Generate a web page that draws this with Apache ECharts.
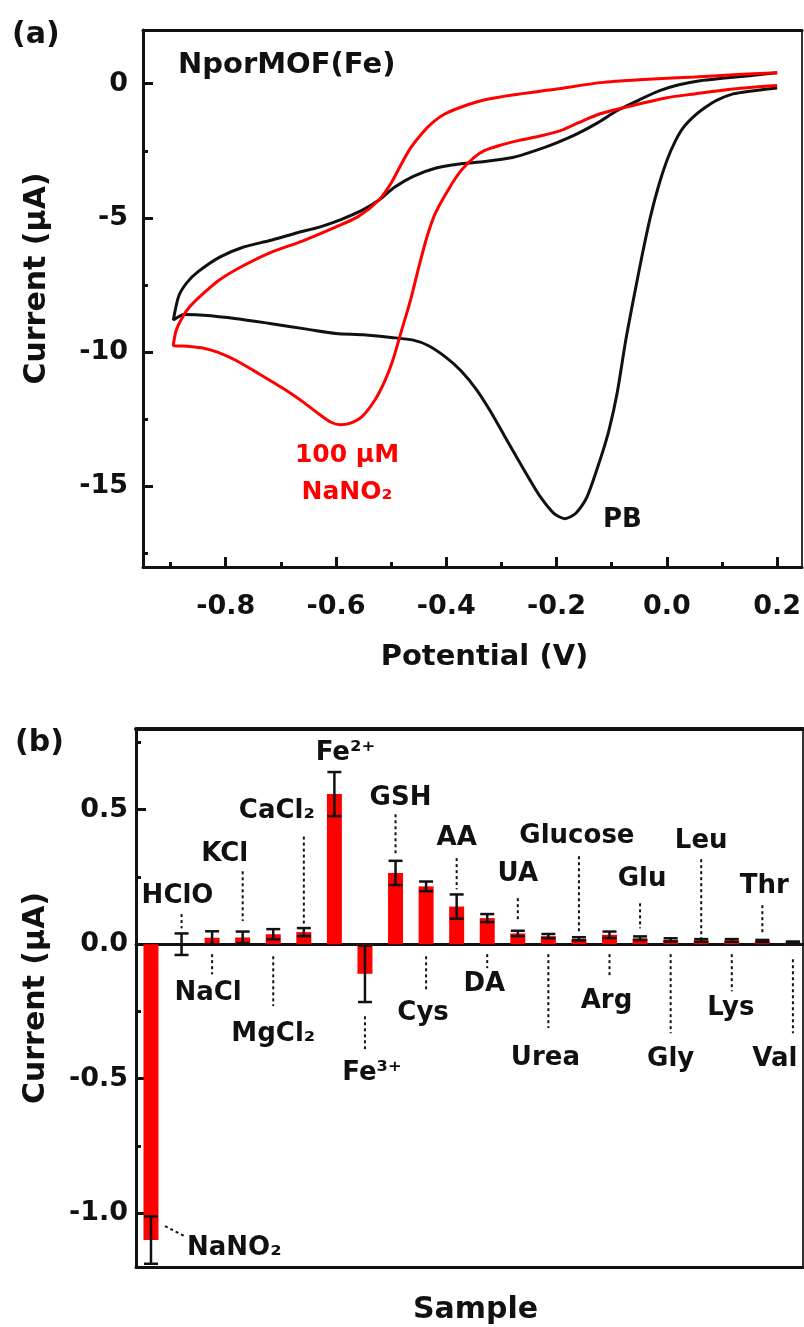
<!DOCTYPE html>
<html>
<head>
<meta charset="utf-8">
<title>NporMOF(Fe)</title>
<script src="https://cdn.jsdelivr.net/npm/echarts@6.0.0/dist/echarts.min.js"></script>
<style>
html, body { margin: 0; padding: 0; background: #fff; }
#main { width: 804px; height: 1327px; }
</style>
</head>
<body>
<div id="main"></div>
<script>
// (a) CV, [potential (V), current (uA)], cathodic sweep first then back
var pbCurve = [
    [0.20,-0.16],[0.15,-0.28],[0.12,-0.38],[0.09,-0.62],[0.07,-0.88],[0.05,-1.2],[0.03,-1.63],[0.015,-2.15],
    [0.0,-2.86],[-0.015,-3.8],[-0.03,-4.97],[-0.045,-6.4],[-0.061,-8.07],[-0.075,-9.6],[-0.09,-11.5],
    [-0.105,-12.9],[-0.121,-14.0],[-0.145,-15.4],[-0.165,-16.0],[-0.185,-16.2],[-0.205,-16.0],[-0.229,-15.4],
    [-0.25,-14.7],[-0.27,-14.0],[-0.295,-13.1],[-0.32,-12.2],[-0.345,-11.4],[-0.373,-10.7],[-0.40,-10.2],
    [-0.433,-9.75],[-0.46,-9.55],[-0.50,-9.45],[-0.55,-9.35],[-0.60,-9.3],[-0.65,-9.15],[-0.72,-8.93],
    [-0.78,-8.75],[-0.84,-8.62],[-0.875,-8.6],[-0.895,-8.8],
    [-0.885,-7.9],[-0.87,-7.4],[-0.85,-7.0],[-0.81,-6.45],[-0.77,-6.1],[-0.72,-5.84],[-0.67,-5.55],
    [-0.63,-5.34],[-0.59,-5.05],[-0.553,-4.72],[-0.52,-4.3],[-0.494,-3.86],[-0.46,-3.45],[-0.42,-3.15],
    [-0.38,-3.0],[-0.33,-2.9],[-0.28,-2.75],[-0.24,-2.5],[-0.20,-2.2],[-0.162,-1.86],[-0.125,-1.45],
    [-0.09,-1.0],[-0.05,-0.6],[-0.013,-0.26],[0.02,-0.05],[0.06,0.11],[0.10,0.2],[0.15,0.3],[0.20,0.41]
];
var nitriteCurve = [
    [0.20,-0.07],[0.12,-0.2],[0.05,-0.38],[0.0,-0.52],[-0.06,-0.8],[-0.121,-1.12],[-0.16,-1.45],[-0.193,-1.75],
    [-0.23,-1.95],[-0.27,-2.12],[-0.30,-2.28],[-0.331,-2.49],[-0.35,-2.75],[-0.373,-3.23],[-0.395,-3.9],
    [-0.42,-4.83],[-0.435,-5.7],[-0.45,-6.84],[-0.465,-8.07],[-0.481,-9.18],[-0.497,-10.3],[-0.512,-11.1],
    [-0.53,-11.8],[-0.553,-12.4],[-0.575,-12.65],[-0.593,-12.7],[-0.61,-12.6],[-0.631,-12.3],[-0.66,-11.85],
    [-0.692,-11.4],[-0.74,-10.8],[-0.782,-10.3],[-0.815,-10.0],[-0.84,-9.85],[-0.87,-9.78],[-0.895,-9.74],
    [-0.89,-9.2],[-0.88,-8.75],[-0.865,-8.3],[-0.84,-7.8],[-0.811,-7.3],[-0.77,-6.8],[-0.72,-6.3],[-0.66,-5.85],
    [-0.602,-5.35],[-0.56,-4.95],[-0.523,-4.35],[-0.50,-3.7],[-0.481,-2.97],[-0.465,-2.4],[-0.445,-1.87],
    [-0.425,-1.45],[-0.403,-1.13],[-0.37,-0.85],[-0.33,-0.6],[-0.28,-0.42],[-0.20,-0.2],[-0.121,0.04],
    [-0.05,0.15],[0.05,0.25],[0.12,0.33],[0.20,0.41]
];
var potentialTicks = [-0.8, -0.6, -0.4, -0.2, 0.0, 0.2];
var potentialMinor = [-0.9, -0.7, -0.5, -0.3, -0.1, 0.1];
var cvTicks = [-15, -10, -5, 0];
var cvMinor = [-17.5, -12.5, -7.5, -2.5];

// (b) interference test
var samples = ['NaNO₂','HClO','NaCl','KCl','MgCl₂','CaCl₂','Fe²⁺','Fe³⁺','GSH','Cys','AA','DA','UA',
    'Urea','Glucose','Arg','Glu','Gly','Leu','Lys','Thr','Val'];
var currents = [-1.10, 0.0, 0.024, 0.025, 0.037, 0.045, 0.558, -0.11, 0.265, 0.215, 0.14, 0.097, 0.04,
    0.03, 0.02, 0.035, 0.022, 0.016, 0.014, 0.014, 0.012, 0.007];
var errors = [0.088, 0.04, 0.024, 0.022, 0.019, 0.015, 0.082, 0.105, 0.045, 0.018, 0.045, 0.015, 0.01,
    0.008, 0.006, 0.012, 0.007, 0.006, 0.005, 0.005, 0.004, 0.003];
var barTicks = [-1.0, -0.5, 0.0, 0.5];
var barMinor = [-0.75, -0.25, 0.25, 0.75];

// name tags: label centre (uA), shift (px), dotted leader [dx1, uA1, dx2, uA2]
var tagLayout = [
    {i: 0, y: -1.13, dx: 36, align: 'left', lead: [14, -1.048, 34, -1.086]},
    {i: 1, y: 0.178, dx: -4, lead: [0, 0.112, 0, 0.059]},
    {i: 2, y: -0.182, dx: -4, lead: [0, -0.037, 0, -0.112]},
    {i: 3, y: 0.335, dx: -18, lead: [0, 0.271, 0, 0.086]},
    {i: 4, y: -0.335, dx: 0, lead: [0, -0.045, 0, -0.23]},
    {i: 5, y: 0.494, dx: -27, lead: [0, 0.40, 0, 0.074]},
    {i: 6, y: 0.71, dx: 11},
    {i: 7, y: -0.48, dx: 7, lead: [0, -0.268, 0, -0.39]},
    {i: 8, y: 0.543, dx: 5, lead: [0, 0.483, 0, 0.335]},
    {i: 9, y: -0.257, dx: -3, lead: [0, -0.045, 0, -0.175]},
    {i: 10, y: 0.394, dx: 0, lead: [0, 0.32, 0, 0.204]},
    {i: 11, y: -0.149, dx: -3, lead: [0, -0.037, 0, -0.089]},
    {i: 12, y: 0.26, dx: 0, lead: [0, 0.171, 0, 0.086]},
    {i: 13, y: -0.424, dx: -3, lead: [0, -0.037, 0, -0.312]},
    {i: 14, y: 0.401, dx: -2, lead: [0, 0.327, 0, 0.048]},
    {i: 15, y: -0.212, dx: -3, lead: [0, -0.037, 0, -0.119]},
    {i: 16, y: 0.242, dx: 2, lead: [0, 0.152, 0, 0.059]},
    {i: 17, y: -0.428, dx: 0, lead: [0, -0.037, 0, -0.331]},
    {i: 18, y: 0.383, dx: 0, lead: [0, 0.316, 0, 0.022]},
    {i: 19, y: -0.238, dx: -1, lead: [0, -0.037, 0, -0.175]},
    {i: 20, y: 0.216, dx: 2, lead: [0, 0.145, 0, 0.037]},
    {i: 21, y: -0.428, dx: -18, lead: [0, -0.056, 0, -0.331]}
];

var FONT = 'DejaVu Sans';
var INK = '#111';

function tickLabel(size) {
    return {color: INK, fontFamily: FONT, fontWeight: 'bold', fontSize: size};
}
function fmt1(v) { return v.toFixed(1); }
function fmt0(v) { return String(v); }

function txt(x, y, s, size, color, align) {
    return {
        type: 'text', x: x, y: y, z: 100,
        style: {text: s, fill: color || INK, font: 'bold ' + size + 'px "' + FONT + '"',
            textAlign: align || 'left', align: align || 'left',
            textVerticalAlign: 'middle', verticalAlign: 'middle'}
    };
}

// axis that only carries short inner ticks
function minorAxis(grid, pos, min, max, vals) {
    return {
        gridIndex: grid, type: 'value', min: min, max: max, position: pos,
        axisLine: {show: false, onZero: false},
        axisTick: {inside: true, length: 5, customValues: vals, lineStyle: {color: INK, width: 3}},
        axisLabel: {show: false}, splitLine: {show: false}
    };
}
// plain frame side
function frameAxis(grid, pos, min, max, color, width) {
    return {
        gridIndex: grid, type: 'value', min: min, max: max, position: pos,
        axisLine: {onZero: false, lineStyle: {color: color, width: width}},
        axisTick: {show: false}, axisLabel: {show: false}, splitLine: {show: false}
    };
}

var myChart = echarts.init(document.getElementById('main'));

var barData = currents.map(function (v, i) { return [i, v]; });
var errData = currents.map(function (v, i) { return [i, v, errors[i]]; });
var tagData = tagLayout.map(function (t) { return [t.i, t.y]; });

var option = {
    animation: false,
    backgroundColor: '#fff',
    grid: [
        {left: 143, top: 30, width: 659, height: 537, outerBoundsMode: 'none'},
        {left: 136, top: 729, width: 667, height: 538, outerBoundsMode: 'none'}
    ],
    xAxis: [
        {
            gridIndex: 0, type: 'value', min: -0.95, max: 0.245, position: 'bottom',
            axisLine: {onZero: false, lineStyle: {color: INK, width: 3}},
            axisTick: {inside: true, length: 10, customValues: potentialTicks, lineStyle: {color: INK, width: 3}},
            axisLabel: Object.assign(tickLabel(27), {margin: 26, customValues: potentialTicks, formatter: fmt1}),
            splitLine: {show: false},
            name: 'Potential (V)', nameLocation: 'middle', nameGap: 76, nameMoveOverlap: false,
            nameTextStyle: {color: INK, fontFamily: FONT, fontWeight: 'bold', fontSize: 29, padding: [0, 0, 0, 24]}
        },
        minorAxis(0, 'bottom', -0.95, 0.245, potentialMinor),
        frameAxis(0, 'top', -0.95, 0.245, INK, 3),
        {
            gridIndex: 1, type: 'value', min: -0.49, max: 21.33, position: 'bottom',
            axisLine: {onZero: true, lineStyle: {color: INK, width: 3}},
            axisTick: {show: false}, axisLabel: {show: false}, splitLine: {show: false}
        },
        {
            gridIndex: 1, type: 'value', min: -0.49, max: 21.33, position: 'bottom',
            axisLine: {onZero: false, lineStyle: {color: INK, width: 3}},
            axisTick: {show: false}, axisLabel: {show: false}, splitLine: {show: false},
            name: 'Sample', nameLocation: 'middle', nameGap: 28, nameMoveOverlap: false,
            nameTextStyle: {color: INK, fontFamily: FONT, fontWeight: 'bold', fontSize: 30, padding: [0, 0, 0, 12]}
        },
        frameAxis(1, 'top', -0.49, 21.33, INK, 4)
    ],
    yAxis: [
        {
            gridIndex: 0, type: 'value', min: -18, max: 2, position: 'left',
            axisLine: {onZero: false, lineStyle: {color: INK, width: 3}},
            axisTick: {inside: true, length: 10, customValues: cvTicks, lineStyle: {color: INK, width: 3}},
            axisLabel: Object.assign(tickLabel(27), {margin: 15, customValues: cvTicks, formatter: fmt0}),
            splitLine: {show: false},
            name: 'Current (μA)', nameLocation: 'middle', nameRotate: 90, nameGap: 91, nameMoveOverlap: false,
            nameTextStyle: {color: INK, fontFamily: FONT, fontWeight: 'bold', fontSize: 30, padding: [0, 0, 0, 40]}
        },
        minorAxis(0, 'left', -18, 2, cvMinor),
        frameAxis(0, 'right', -18, 2, '#333', 2),
        {
            gridIndex: 1, type: 'value', min: -1.2, max: 0.8, position: 'left',
            axisLine: {onZero: false, lineStyle: {color: INK, width: 3}},
            axisTick: {inside: true, length: 10, customValues: barTicks, lineStyle: {color: INK, width: 3}},
            axisLabel: Object.assign(tickLabel(27), {margin: 8, customValues: barTicks, formatter: fmt1}),
            splitLine: {show: false},
            name: 'Current (μA)', nameLocation: 'middle', nameRotate: 90, nameGap: 85, nameMoveOverlap: false,
            nameTextStyle: {color: INK, fontFamily: FONT, fontWeight: 'bold', fontSize: 30}
        },
        minorAxis(1, 'left', -1.2, 0.8, barMinor),
        frameAxis(1, 'right', -1.2, 0.8, '#333', 2)
    ],
    series: [
        {
            name: 'PB', type: 'line', xAxisIndex: 0, yAxisIndex: 0, data: pbCurve,
            showSymbol: false, smooth: 0.25, lineStyle: {color: '#111', width: 3}, z: 3
        },
        {
            name: '100 μM NaNO₂', type: 'line', xAxisIndex: 0, yAxisIndex: 0, data: nitriteCurve,
            showSymbol: false, smooth: 0.25, lineStyle: {color: '#ff0000', width: 3}, z: 4
        },
        {
            name: 'current', type: 'bar', xAxisIndex: 3, yAxisIndex: 3, data: barData,
            barWidth: 15, itemStyle: {color: '#ff0000'}, z: 2
        },
        {
            name: 'error', type: 'custom', xAxisIndex: 3, yAxisIndex: 3, data: errData,
            encode: {x: 0, y: 1}, z: 5,
            renderItem: function (params, api) {
                var x = api.value(0), v = api.value(1), e = api.value(2);
                var hi = api.coord([x, v + e]), lo = api.coord([x, v - e]);
                var w = 7;
                var st = {stroke: INK, lineWidth: 2.5};
                return {type: 'group', children: [
                    {type: 'line', shape: {x1: hi[0], y1: hi[1], x2: lo[0], y2: lo[1]}, style: st},
                    {type: 'line', shape: {x1: hi[0] - w, y1: hi[1], x2: hi[0] + w, y2: hi[1]}, style: st},
                    {type: 'line', shape: {x1: lo[0] - w, y1: lo[1], x2: lo[0] + w, y2: lo[1]}, style: st}
                ]};
            }
        },
        {
            name: 'tags', type: 'custom', xAxisIndex: 3, yAxisIndex: 3, data: tagData,
            encode: {x: 0, y: 1}, z: 6, clip: false,
            renderItem: function (params, api) {
                var t = tagLayout[params.dataIndex];
                var p = api.coord([t.i, t.y]);
                var align = t.align || 'center';
                var kids = [{
                    type: 'text',
                    style: {text: samples[t.i], x: p[0] + t.dx, y: p[1], fill: INK,
                        font: 'bold 26px "' + FONT + '"', textAlign: align, align: align,
                        textVerticalAlign: 'middle', verticalAlign: 'middle'}
                }];
                if (t.lead) {
                    var a = api.coord([t.i, t.lead[1]]), b = api.coord([t.i, t.lead[3]]);
                    kids.push({
                        type: 'line',
                        shape: {x1: a[0] + t.lead[0], y1: a[1], x2: b[0] + t.lead[2], y2: b[1]},
                        style: {stroke: INK, lineWidth: 2, lineDash: [3, 3]}
                    });
                }
                return {type: 'group', children: kids};
            }
        }
    ],
    graphic: [
        txt(12, 35, '(a)', 30),
        txt(178, 65, 'NporMOF(Fe)', 29),
        txt(347, 455, '100 μM', 25, '#ff0000', 'center'),
        txt(347, 492, 'NaNO₂', 25, '#ff0000', 'center'),
        txt(603, 520, 'PB', 26),
        txt(15, 743, '(b)', 30)
    ]
};
myChart.setOption(option);
</script>
</body>
</html>
